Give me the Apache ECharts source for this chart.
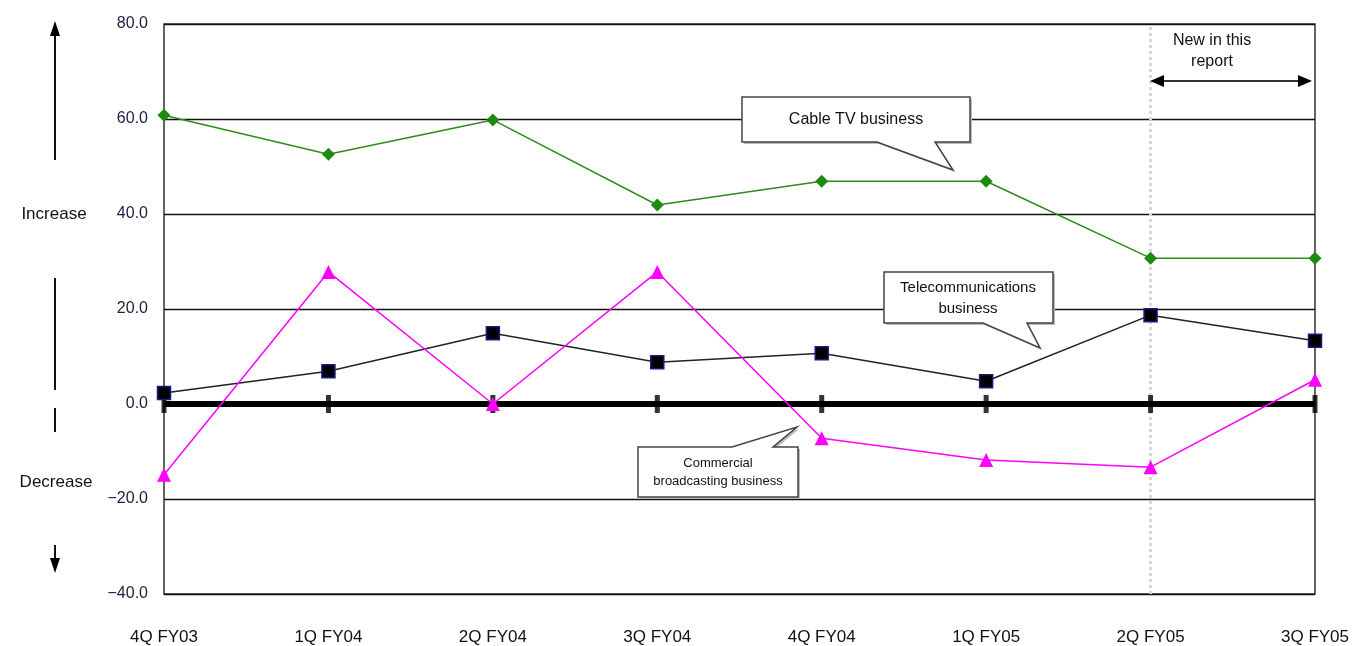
<!DOCTYPE html>
<html><head><meta charset="utf-8">
<script src="https://cdn.jsdelivr.net/npm/echarts@6/dist/echarts.min.js"></script>
<style>html,body{margin:0;padding:0;background:#fff}#c{width:1363px;height:646px}</style>
</head><body><div id="c"></div>
<script>
const categories = ['4Q FY03','1Q FY04','2Q FY04','3Q FY04','4Q FY04','1Q FY05','2Q FY05','3Q FY05'];
const cableTV = [60.8, 52.6, 59.8, 41.9, 46.9, 46.9, 30.7, 30.7];
const telecom = [2.3, 6.9, 14.9, 8.8, 10.7, 4.8, 18.7, 13.3];
const broadcasting = [-14.9, 27.8, 0.0, 27.8, -7.2, -11.8, -13.3, 5.1];
const zeroTicks = categories.map(() => 0);

const chart = echarts.init(document.getElementById('c'));
const F = 'Liberation Sans, Arial, sans-serif';
function callout(pts, shadowPts){
  return [
    {type:'polygon', z:100, shape:{points:shadowPts}, style:{fill:'#bbb', stroke:null}},
    {type:'polygon', z:101, shape:{points:pts}, style:{fill:'#fff', stroke:'#444', lineWidth:1.5}}
  ];
}
function shift(p){return p.map(q=>[q[0]+2,q[1]+2]);}
const cablePts=[[742,97],[970,97],[970,142],[935,142],[953,170],[877,142],[742,142]];
const telPts=[[884,272],[1053,272],[1053,323],[1027,323],[1040,348],[983,323],[884,323]];
const comPts=[[638,447],[732,447],[797,427],[773,447],[798,447],[798,497],[638,497]];
chart.setOption({
  animation:false,
  backgroundColor:'#fff',
  grid:{left:164,right:48,top:24,bottom:52,show:true,borderColor:'#333',borderWidth:1.5,backgroundColor:'transparent'},
  xAxis:{type:'category',data:categories,boundaryGap:false,
    axisLine:{show:false,onZero:false},axisTick:{show:false},splitLine:{show:false},
    axisLabel:{margin:35,fontSize:17,color:'#111',fontFamily:F}},
  yAxis:{type:'value',min:-40,max:80,interval:20,
    axisLine:{show:false},axisTick:{show:false},
    splitLine:{lineStyle:{color:'#111',width:1.3}},
    axisLabel:{margin:16,fontSize:16,color:'#1c1c3c',fontFamily:F,
      formatter:v=> (v<0?'\u2212':'')+Math.abs(v).toFixed(1)}},
  series:[
    {name:'refs',type:'line',data:[],z:1,silent:true,
      markLine:{silent:true,symbol:'none',label:{show:false},z:1,
        data:[{xAxis:'2Q FY05',lineStyle:{color:'#d8d8d8',width:3,type:'dotted'}},
              {yAxis:0,lineStyle:{color:'#000',width:6,type:'solid'}}]}},
    {name:'zero',type:'scatter',data:zeroTicks,symbol:'rect',symbolSize:[5,18],
      itemStyle:{color:'#000'},z:4,silent:true},
    {name:'Cable TV business',type:'line',data:cableTV,symbol:'diamond',symbolSize:13,
      lineStyle:{color:'#2e8b1e',width:1.5},itemStyle:{color:'#1e8a12'},z:5},
    {name:'Telecommunications business',type:'line',data:telecom,symbol:'rect',symbolSize:13,
      lineStyle:{color:'#222',width:1.5},itemStyle:{color:'#000',borderColor:'#1a1a80',borderWidth:1.5},z:5},
    {name:'Commercial broadcasting business',type:'line',data:broadcasting,symbol:'triangle',symbolSize:14,
      lineStyle:{color:'#ff00ff',width:1.5},itemStyle:{color:'#ff00ff'},z:6}
  ],
  graphic:[
    ...callout(cablePts,shift(cablePts)),
    {type:'text',z:102,x:856,y:120,style:{text:'Cable TV business',font:'16px '+F,fill:'#111',align:'center',verticalAlign:'middle'}},
    ...callout(telPts,shift(telPts)),
    {type:'text',z:102,x:968,y:298,style:{text:'Telecommunications\nbusiness',font:'15px '+F,lineHeight:21,fill:'#111',align:'center',verticalAlign:'middle'}},
    ...callout(comPts,shift(comPts)),
    {type:'text',z:102,x:718,y:472,style:{text:'Commercial\nbroadcasting business',font:'13px '+F,lineHeight:18,fill:'#111',align:'center',verticalAlign:'middle'}},
    {type:'text',z:102,x:1212,y:51,style:{text:'New in this\nreport',font:'16px '+F,lineHeight:21,fill:'#111',align:'center',verticalAlign:'middle'}},
    {type:'line',z:102,shape:{x1:1160,y1:81,x2:1302,y2:81},style:{stroke:'#333',lineWidth:2}},
    {type:'polygon',z:102,shape:{points:[[1150,81],[1164,75],[1164,87]]},style:{fill:'#000'}},
    {type:'polygon',z:102,shape:{points:[[1312,81],[1298,75],[1298,87]]},style:{fill:'#000'}},
    {type:'text',z:102,x:54,y:214,style:{text:'Increase',font:'17px '+F,fill:'#111',align:'center',verticalAlign:'middle'}},
    {type:'text',z:102,x:56,y:482,style:{text:'Decrease',font:'17px '+F,fill:'#111',align:'center',verticalAlign:'middle'}},
    {type:'line',z:102,shape:{x1:55,y1:34,x2:55,y2:160},style:{stroke:'#111',lineWidth:2}},
    {type:'polygon',z:102,shape:{points:[[55,21],[50,36],[60,36]]},style:{fill:'#000'}},
    {type:'line',z:102,shape:{x1:55,y1:278,x2:55,y2:390},style:{stroke:'#111',lineWidth:2}},
    {type:'line',z:102,shape:{x1:55,y1:408,x2:55,y2:432},style:{stroke:'#111',lineWidth:2}},
    {type:'line',z:102,shape:{x1:55,y1:545,x2:55,y2:560},style:{stroke:'#111',lineWidth:2}},
    {type:'polygon',z:102,shape:{points:[[55,573],[50,558],[60,558]]},style:{fill:'#000'}}
  ]
});
</script></body></html>
